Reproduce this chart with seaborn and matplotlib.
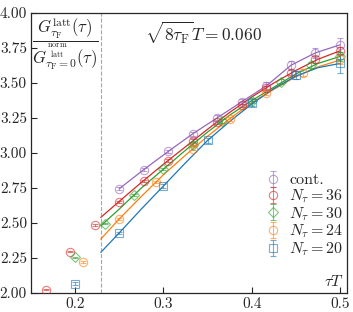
import matplotlib
matplotlib.use('Agg')

import matplotlib.pyplot as plt
import seaborn as sns
import pandas as pd
import numpy as np

# lattice / continuum points (tau T, ratio, error)
cont_x = [9/36, 10/36, 11/36, 12/36, 13/36, 14/36, 15/36, 16/36, 17/36, 18/36]
cont_y = [2.745, 2.882, 3.012, 3.138, 3.252, 3.367, 3.48, 3.627, 3.716, 3.773]
cont_e = [0.010, 0.010, 0.012, 0.015, 0.018, 0.020, 0.025, 0.030, 0.035, 0.050]

n36_x = [6/36, 7/36, 8/36, 9/36, 10/36, 11/36, 12/36, 13/36, 14/36, 15/36, 16/36, 17/36, 18/36]
n36_y = [2.024, 2.296, 2.485, 2.652, 2.803, 2.946, 3.088, 3.22, 3.34, 3.465, 3.575, 3.67, 3.73]
n36_e = [0.005, 0.005, 0.005, 0.006, 0.007, 0.008, 0.010, 0.012, 0.014, 0.016, 0.020, 0.025, 0.030]

n30_x = [6/30, 7/30, 8/30, 9/30, 10/30, 11/30, 12/30, 13/30, 14/30, 15/30]
n30_y = [2.255, 2.496, 2.70, 2.887, 3.06, 3.23, 3.375, 3.508, 3.63, 3.69]
n30_e = [0.005, 0.006, 0.007, 0.008, 0.010, 0.012, 0.015, 0.018, 0.022, 0.030]

n24_x = [5/24, 6/24, 7/24, 8/24, 9/24, 10/24, 11/24, 12/24]
n24_y = [2.22, 2.532, 2.795, 3.03, 3.245, 3.43, 3.575, 3.67]
n24_e = [0.006, 0.007, 0.008, 0.010, 0.013, 0.016, 0.022, 0.035]

n20_x = [4/20, 5/20, 6/20, 7/20, 8/20, 9/20, 10/20]
n20_y = [2.067, 2.428, 2.764, 3.09, 3.355, 3.558, 3.64]
n20_e = [0.010, 0.010, 0.012, 0.015, 0.020, 0.030, 0.070]

# smooth fit curves
fit_x = [0.229, 0.25, 0.275, 0.30, 0.325, 0.35, 0.375, 0.40, 0.425, 0.45, 0.475, 0.5]
fit36 = [2.54, 2.655, 2.79, 2.92, 3.045, 3.17, 3.29, 3.40, 3.50, 3.59, 3.67, 3.73]
fit30 = [2.48, 2.60, 2.75, 2.885, 3.02, 3.15, 3.27, 3.375, 3.47, 3.565, 3.64, 3.69]
fit24 = [2.385, 2.53, 2.69, 2.845, 2.985, 3.12, 3.245, 3.36, 3.455, 3.545, 3.615, 3.665]
fit20 = [2.29, 2.43, 2.60, 2.765, 2.93, 3.09, 3.225, 3.35, 3.46, 3.55, 3.61, 3.64]

tau_cut = 0.229

sns.set_style("ticks")
plt.rcParams['font.family'] = 'serif'
plt.rcParams['font.serif'] = ['cmr10', 'DejaVu Serif']
plt.rcParams['mathtext.fontset'] = 'cm'
plt.rcParams['axes.formatter.use_mathtext'] = True
plt.rcParams['font.size'] = 11

fig = plt.figure(figsize=(3.53, 3.12), dpi=100)
ax = fig.add_axes([0.088, 0.061, 0.895, 0.897])

series = [
    ('cont.', cont_x, cont_y, cont_e, 'o', '#9467bd', None),
    (r'$N_\tau = 36$', n36_x, n36_y, n36_e, 'o', '#d62728', fit36),
    (r'$N_\tau = 30$', n30_x, n30_y, n30_e, 'D', '#2ca02c', fit30),
    (r'$N_\tau = 24$', n24_x, n24_y, n24_e, 'o', '#ff7f0e', fit24),
    (r'$N_\tau = 20$', n20_x, n20_y, n20_e, 's', '#1f77b4', fit20),
]

for label, xs, ys, es, mk, col, fit in series:
    if fit is None:
        df = pd.DataFrame({'x': xs, 'y': ys})
    else:
        df = pd.DataFrame({'x': fit_x, 'y': fit})
    sns.lineplot(data=df, x='x', y='y', color=col, lw=0.9, ax=ax, zorder=2)
    ms = 5.0 if mk == 'D' else 6.0
    ax.errorbar(xs, ys, yerr=es, fmt=mk, mfc='none', mec=col, color=col,
                ms=ms, mew=0.8, elinewidth=0.8, capsize=2, alpha=0.6,
                label=label, zorder=3)

ax.axvline(tau_cut, color='gray', ls='--', lw=0.8, alpha=0.7)

ax.set_xlim(0.15, 0.508)
ax.set_ylim(2.0, 4.0)
ax.set_xticks([0.2, 0.3, 0.4, 0.5])
ax.set_yticks([2.0, 2.25, 2.5, 2.75, 3.0, 3.25, 3.5, 3.75, 4.0])
ax.set_yticklabels(['2.00', '2.25', '2.50', '2.75', '3.00', '3.25', '3.50', '3.75', '4.00'])
ax.set_xticklabels(['0.2', '0.3', '0.4', '0.5'])
ax.tick_params(direction='in', length=4, width=0.8, labelsize=11, pad=3)
ax.set_xlabel('')
ax.set_ylabel('')
for s in ax.spines.values():
    s.set_linewidth(0.9)

ylab = (r'$\dfrac{G^{\mathrm{latt}}_{\tau_\mathrm{F}}(\tau)}'
        r'{G^{\genfrac{}{}{0}{}{\mathrm{norm}}{\mathrm{latt}}}_{\tau_\mathrm{F}=0}(\tau)}$')
ax.text(0.108, 0.99, ylab, transform=ax.transAxes, ha='center', va='top', fontsize=12)
ax.text(0.36, 0.975, r'$\sqrt{8\tau_\mathrm{F}}T = 0.060$', transform=ax.transAxes,
        ha='left', va='top', fontsize=12.5)
ax.text(0.99, 0.015, r'$\tau T$', transform=ax.transAxes, ha='right', va='bottom',
        fontsize=11.5)

ax.legend(loc='lower right', bbox_to_anchor=(1.025, 0.085), frameon=False,
          handlelength=1.0, handletextpad=0.5, labelspacing=0.0,
          borderpad=0.2, fontsize=11.5)

fig.savefig('out.png', dpi=100)
